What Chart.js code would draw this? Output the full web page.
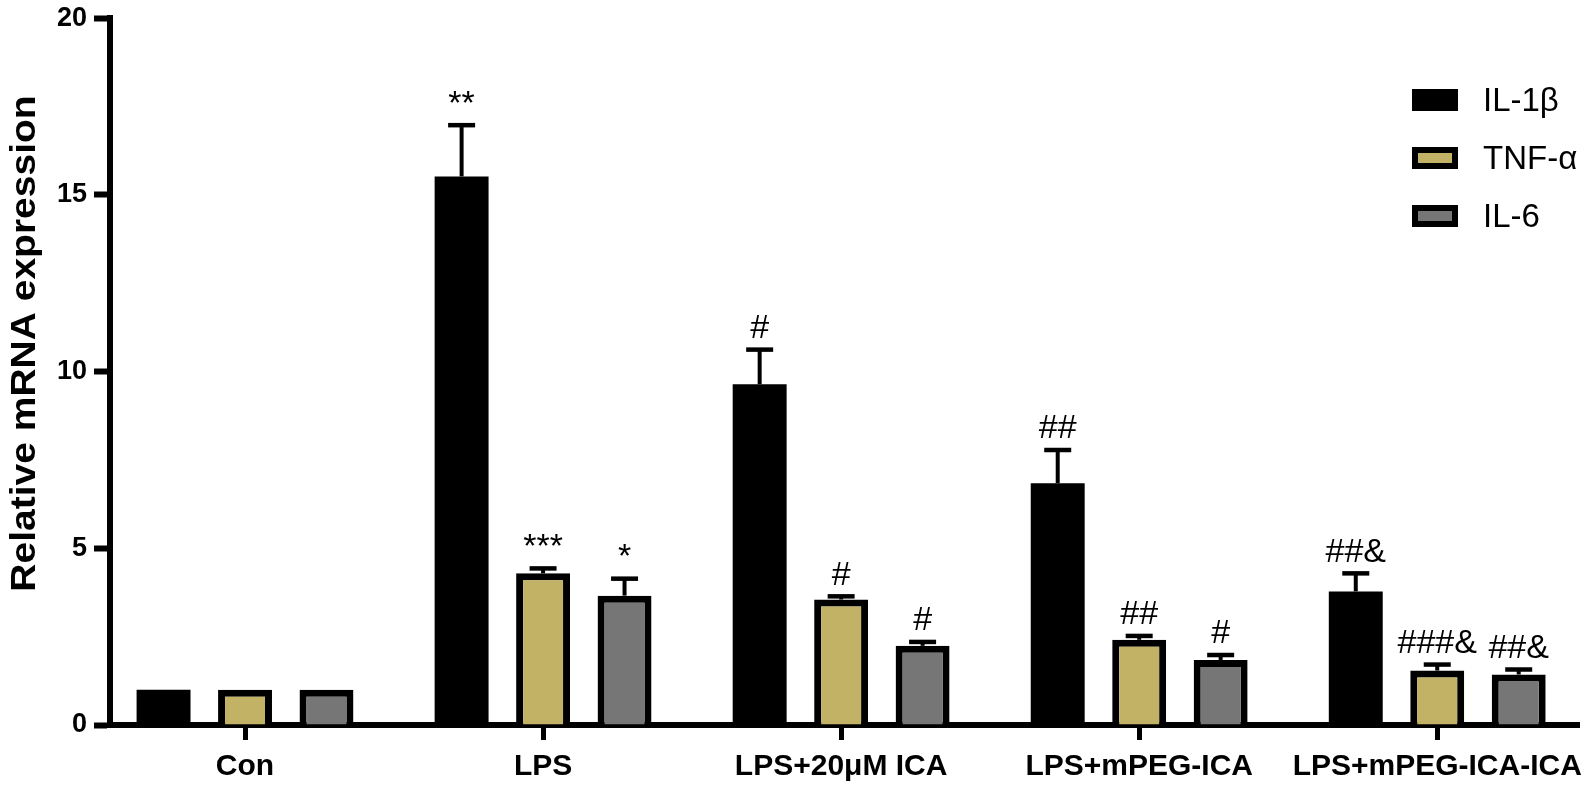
<!DOCTYPE html>
<html>
<head>
<meta charset="utf-8">
<script src="https://cdn.jsdelivr.net/npm/chart.js@4.4.1/dist/chart.umd.min.js"></script>
<style>
html, body { margin: 0; padding: 0; background: #fff; }
#wrap { width: 1592px; height: 788px; }
</style>
</head>
<body>
<div id="wrap"><canvas id="graphCanvas"></canvas></div>
<script>
const groups = ['Con', 'LPS', 'LPS+20μM ICA', 'LPS+mPEG-ICA', 'LPS+mPEG-ICA-ICA'];
const seriesNames = ['IL-1β', 'TNF-α', 'IL-6'];
const il1b = [1.0, 15.52, 9.64, 6.84, 3.78];
const tnfa = [1.0, 4.29, 3.55, 2.41, 1.54];
const il6 = [1.0, 3.66, 2.24, 1.84, 1.43];
const il1bErr = [0, 1.45, 0.98, 0.94, 0.51];
const tnfaErr = [0, 0.14, 0.09, 0.11, 0.17];
const il6Err = [0, 0.48, 0.11, 0.14, 0.14];
const il1bSig = ['', '**', '#', '##', '##&'];
const tnfaSig = ['', '***', '#', '##', '###&'];
const il6Sig = ['', '*', '#', '#', '##&'];
const yTicks = [0, 5, 10, 15, 20];
const yTitle = 'Relative mRNA expression';

const FONT = "'Liberation Sans', Arial, sans-serif";
Chart.defaults.font.family = FONT;
Chart.defaults.color = '#000';

const errors = [il1bErr, tnfaErr, il6Err];
const marks = [il1bSig, tnfaSig, il6Sig];

function toPoints(values) {
    return values.map((v, i) => ({ x: i, y: v }));
}

// error bars + significance marks, drawn over the bars
const errorBars = {
    id: 'errorBars',
    afterDatasetsDraw(chart) {
        const ctx = chart.ctx;
        const y = chart.scales.y;
        ctx.save();
        ctx.strokeStyle = '#000';
        ctx.fillStyle = '#000';
        chart.data.datasets.forEach((ds, di) => {
            const meta = chart.getDatasetMeta(di);
            meta.data.forEach((bar, i) => {
                const v = ds.data[i].y;
                const e = errors[di][i];
                const top = y.getPixelForValue(v);
                const cap = y.getPixelForValue(v + e);
                if (e > 0) {
                    ctx.lineWidth = 4;
                    ctx.beginPath();
                    ctx.moveTo(bar.x, top);
                    ctx.lineTo(bar.x, cap);
                    ctx.stroke();
                    ctx.lineWidth = 4.5;
                    ctx.beginPath();
                    ctx.moveTo(bar.x - 13.5, cap);
                    ctx.lineTo(bar.x + 13.5, cap);
                    ctx.stroke();
                }
                const txt = marks[di][i];
                if (txt) {
                    ctx.font = '34px ' + FONT;
                    ctx.textAlign = 'center';
                    ctx.textBaseline = 'middle';
                    ctx.fillText(txt, bar.x, cap - 21);
                }
            });
        });
        ctx.restore();
    }
};

// legend in the top right corner of the plot
const sideLegend = {
    id: 'sideLegend',
    afterDraw(chart) {
        const ctx = chart.ctx;
        ctx.save();
        chart.data.datasets.forEach((ds, i) => {
            const cy = 100 + i * 58;
            const bx = 1412, bw = 46, bh = 22;
            ctx.fillStyle = '#000';
            ctx.fillRect(bx, cy - bh / 2, bw, bh);
            if (ds.borderWidth > 0) {
                ctx.fillStyle = ds.backgroundColor;
                ctx.fillRect(bx + 6, cy - bh / 2 + 6, bw - 12, bh - 12);
            }
            ctx.fillStyle = '#000';
            ctx.font = '33px ' + FONT;
            ctx.textAlign = 'left';
            ctx.textBaseline = 'middle';
            ctx.fillText(ds.label, 1483, cy + 2);
        });
        ctx.restore();
    }
};

// y axis title, sits a little above the middle of the axis
const axisTitle = {
    id: 'axisTitle',
    afterDraw(chart) {
        const ctx = chart.ctx;
        const y = chart.scales.y;
        ctx.save();
        ctx.translate(y.left + 25, (y.top + y.bottom) / 2 - 28);
        ctx.rotate(-Math.PI / 2);
        ctx.scale(1, 0.9);
        ctx.fillStyle = '#000';
        ctx.font = 'bold 39px ' + FONT;
        ctx.textAlign = 'center';
        ctx.textBaseline = 'middle';
        ctx.fillText(yTitle, 0, 0);
        ctx.restore();
    }
};

const ctx = document.getElementById('graphCanvas');

new Chart(ctx, {
    type: 'bar',
    data: {
        datasets: [{
            label: seriesNames[0],
            data: toPoints(il1b),
            backgroundColor: '#000',
            borderColor: '#000',
            borderWidth: 0
        }, {
            label: seriesNames[1],
            data: toPoints(tnfa),
            backgroundColor: '#c2b265',
            borderColor: '#000',
            borderWidth: 7
        }, {
            label: seriesNames[2],
            data: toPoints(il6),
            backgroundColor: '#767676',
            borderColor: '#000',
            borderWidth: 7
        }]
    },
    options: {
        responsive: true,
        maintainAspectRatio: false,
        animation: false,
        categoryPercentage: 0.82,
        barPercentage: 0.662,
        layout: {
            padding: { top: 0, right: 12, left: 0, bottom: 0 }
        },
        plugins: {
            legend: { display: false },
            tooltip: { enabled: false }
        },
        scales: {
            x: {
                type: 'linear',
                min: -0.453,
                max: 4.476,
                offset: false,
                z: 1,
                afterBuildTicks: function (scale) {
                    scale.ticks = groups.map((g, i) => ({ value: i }));
                },
                afterFit: function (scale) {
                    scale.height = 63;
                },
                border: { display: true, color: '#000', width: 6 },
                grid: {
                    offset: false,
                    drawOnChartArea: false,
                    drawTicks: true,
                    tickLength: 15,
                    tickWidth: 5,
                    tickColor: '#000'
                },
                ticks: {
                    autoSkip: false,
                    maxRotation: 0,
                    padding: 9,
                    color: '#000',
                    font: { size: 30, weight: 'bold' },
                    callback: function (value) {
                        return groups[value];
                    }
                }
            },
            y: {
                min: 0,
                max: 20,
                z: 1,
                afterBuildTicks: function (scale) {
                    scale.ticks = yTicks.map(v => ({ value: v }));
                },
                afterFit: function (scale) {
                    scale.width = 110;
                },
                border: { display: true, color: '#000', width: 6 },
                grid: {
                    drawOnChartArea: false,
                    drawTicks: true,
                    tickLength: 16,
                    tickWidth: 6,
                    tickColor: '#000'
                },
                ticks: {
                    padding: 7,
                    color: '#000',
                    font: { size: 27, weight: 'bold', lineHeight: 0.82 }
                }
            }
        }
    },
    plugins: [errorBars, sideLegend, axisTitle]
});
</script>
</body>
</html>
